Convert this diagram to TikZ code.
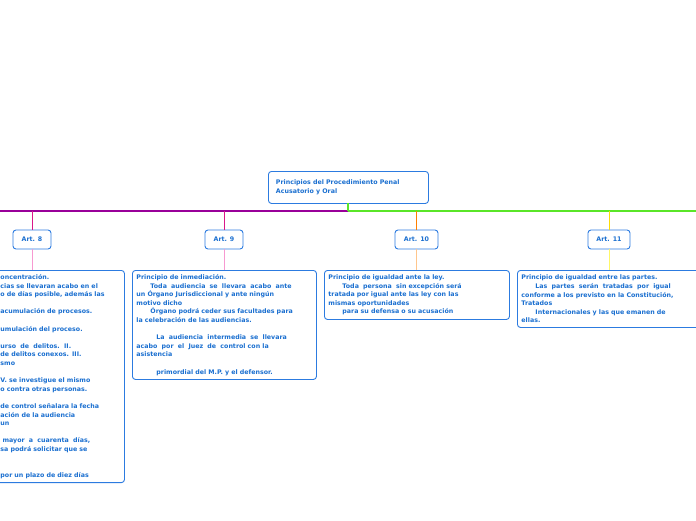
\documentclass[tikz,border=0pt]{standalone}
\usepackage{fontspec}
\setmainfont{DejaVu Sans}
\usetikzlibrary{positioning}
\definecolor{txtblue}{HTML}{1A6FD0}
\definecolor{boxblue}{HTML}{2C7BE0}
\tikzset{
  box/.style={draw=boxblue,line width=0.9pt,rounded corners=3pt,fill=white,
    text=txtblue,font=\fontsize{6.3}{8.6}\selectfont\bfseries},
  art/.style={box,minimum width=38pt,minimum height=19pt,inner sep=2pt},
  textbox/.style={box,align=left,anchor=north west,inner sep=4pt}
}
\begin{document}
\begin{tikzpicture}[x=1pt,y=-1pt]
\useasboundingbox (0,0) rectangle (696,520);
\clip (0,0) rectangle (696,520);
% main line
\draw[violet!80!magenta,line width=1.2pt] (0,211) -- (348,211);
\draw[green!85!black!70!green,line width=1.2pt,color={rgb,255:red,90;green,230;blue,40}] (348,211) -- (696,211);
\node[box,anchor=north west,minimum width=160pt,minimum height=32pt,text width=145pt,align=left,inner sep=6pt] (main) at (268,171)
  {Principios del Procedimiento Penal\\Acusatorio y Oral};
\draw[line width=1.2pt,color={rgb,255:red,90;green,230;blue,40}] (348,203) -- (348,211);
% articles
\node[art] (a8) at (32,239.5) {Art. 8};
\node[art] (a9) at (224,239.5) {Art. 9};
\node[art,minimum width=43pt] (a10) at (416.5,239.5) {Art. 10};
\node[art,minimum width=42pt] (a11) at (609,239.5) {Art. 11};
\draw[magenta!80!violet,line width=0.9pt] (a8.north) -- ++(0,-19);
\draw[magenta!80!violet,line width=0.9pt] (a9.north) -- ++(0,-19);
\draw[orange,line width=0.9pt] (a10.north) -- ++(0,-19);
\draw[yellow!80!orange,line width=0.9pt] (a11.north) -- ++(0,-19);
% contents
\node[textbox,minimum width=134pt,minimum height=211pt,text width=126pt] (t8) at (-10,270)
{\hspace*{6pt}oncentración.\\
\hspace*{6pt}cias se llevaran acabo en el\\
\hspace*{6pt}o de días posible, además las\\[8.6pt]
\hspace*{6pt}acumulación de procesos.\\[8.6pt]
\hspace*{6pt}umulación del proceso.\\[8.6pt]
\hspace*{6pt}urso\ \ de\ \ delitos.\ \ II.\\
\hspace*{6pt}de delitos conexos. III.\\
\hspace*{6pt}smo\\[8.6pt]
\hspace*{6pt}V. se investigue el mismo\\
\hspace*{6pt}o contra otras personas.\\[8.6pt]
\hspace*{6pt}de control señalara la fecha\\
\hspace*{6pt}ación de la audiencia\\
\hspace*{6pt}un\\[8.6pt]
\hspace*{6pt}\ mayor\ \ a\ \ cuarenta\ \ días,\\
\hspace*{6pt}sa podrá solicitar que se\\[17.2pt]
\hspace*{6pt}por un plazo de diez días};
\node[textbox,minimum width=184pt,minimum height=109pt,text width=176pt] (t9) at (132,270)
{Principio de inmediación.\\
\hspace*{14pt}Toda\ \ audiencia\ \ se\ \ llevara\ \ acabo\ \ ante\\
un Órgano Jurisdiccional y ante ningún\\
motivo dicho\\
\hspace*{14pt}Órgano podrá ceder sus facultades para\\
la celebración de las audiencias.\\[8.6pt]
\hspace*{20pt}La\ \ audiencia\ \ intermedia\ \ se\ \ llevara\\
acabo\ \ por\ \ el\ \ Juez\ \ de\ \ control con la\\
asistencia\\[8.6pt]
\hspace*{20pt}primordial del M.P. y el defensor.};
\node[textbox,minimum width=185pt,minimum height=49pt,text width=177pt] (t10) at (324,270)
{Principio de igualdad ante la ley.\\
\hspace*{14pt}Toda\ \ persona\ \ sin excepción será\\
tratada por igual ante las ley con las\\
mismas oportunidades\\
\hspace*{14pt}para su defensa o su acusación};
\node[textbox,minimum width=186pt,minimum height=57pt,text width=178pt] (t11) at (517,270)
{Principio de igualdad entre las partes.\\
\hspace*{14pt}Las\ \ partes\ \ serán\ \ tratadas\ \ por\ \ igual\\
conforme a los previsto en la Constitución,\\
Tratados\\
\hspace*{14pt}Internacionales y las que emanen de\\
ellas.};
\draw[magenta!40,line width=0.9pt] (a8) -- (t8.north -| a8);
\draw[magenta!40,line width=0.9pt] (a9) -- (t9.north -| a9);
\draw[orange!45,line width=0.9pt] (a10) -- (t10.north -| a10);
\draw[yellow!60,line width=0.9pt] (a11) -- (t11.north -| a11);
\end{tikzpicture}
\end{document}
